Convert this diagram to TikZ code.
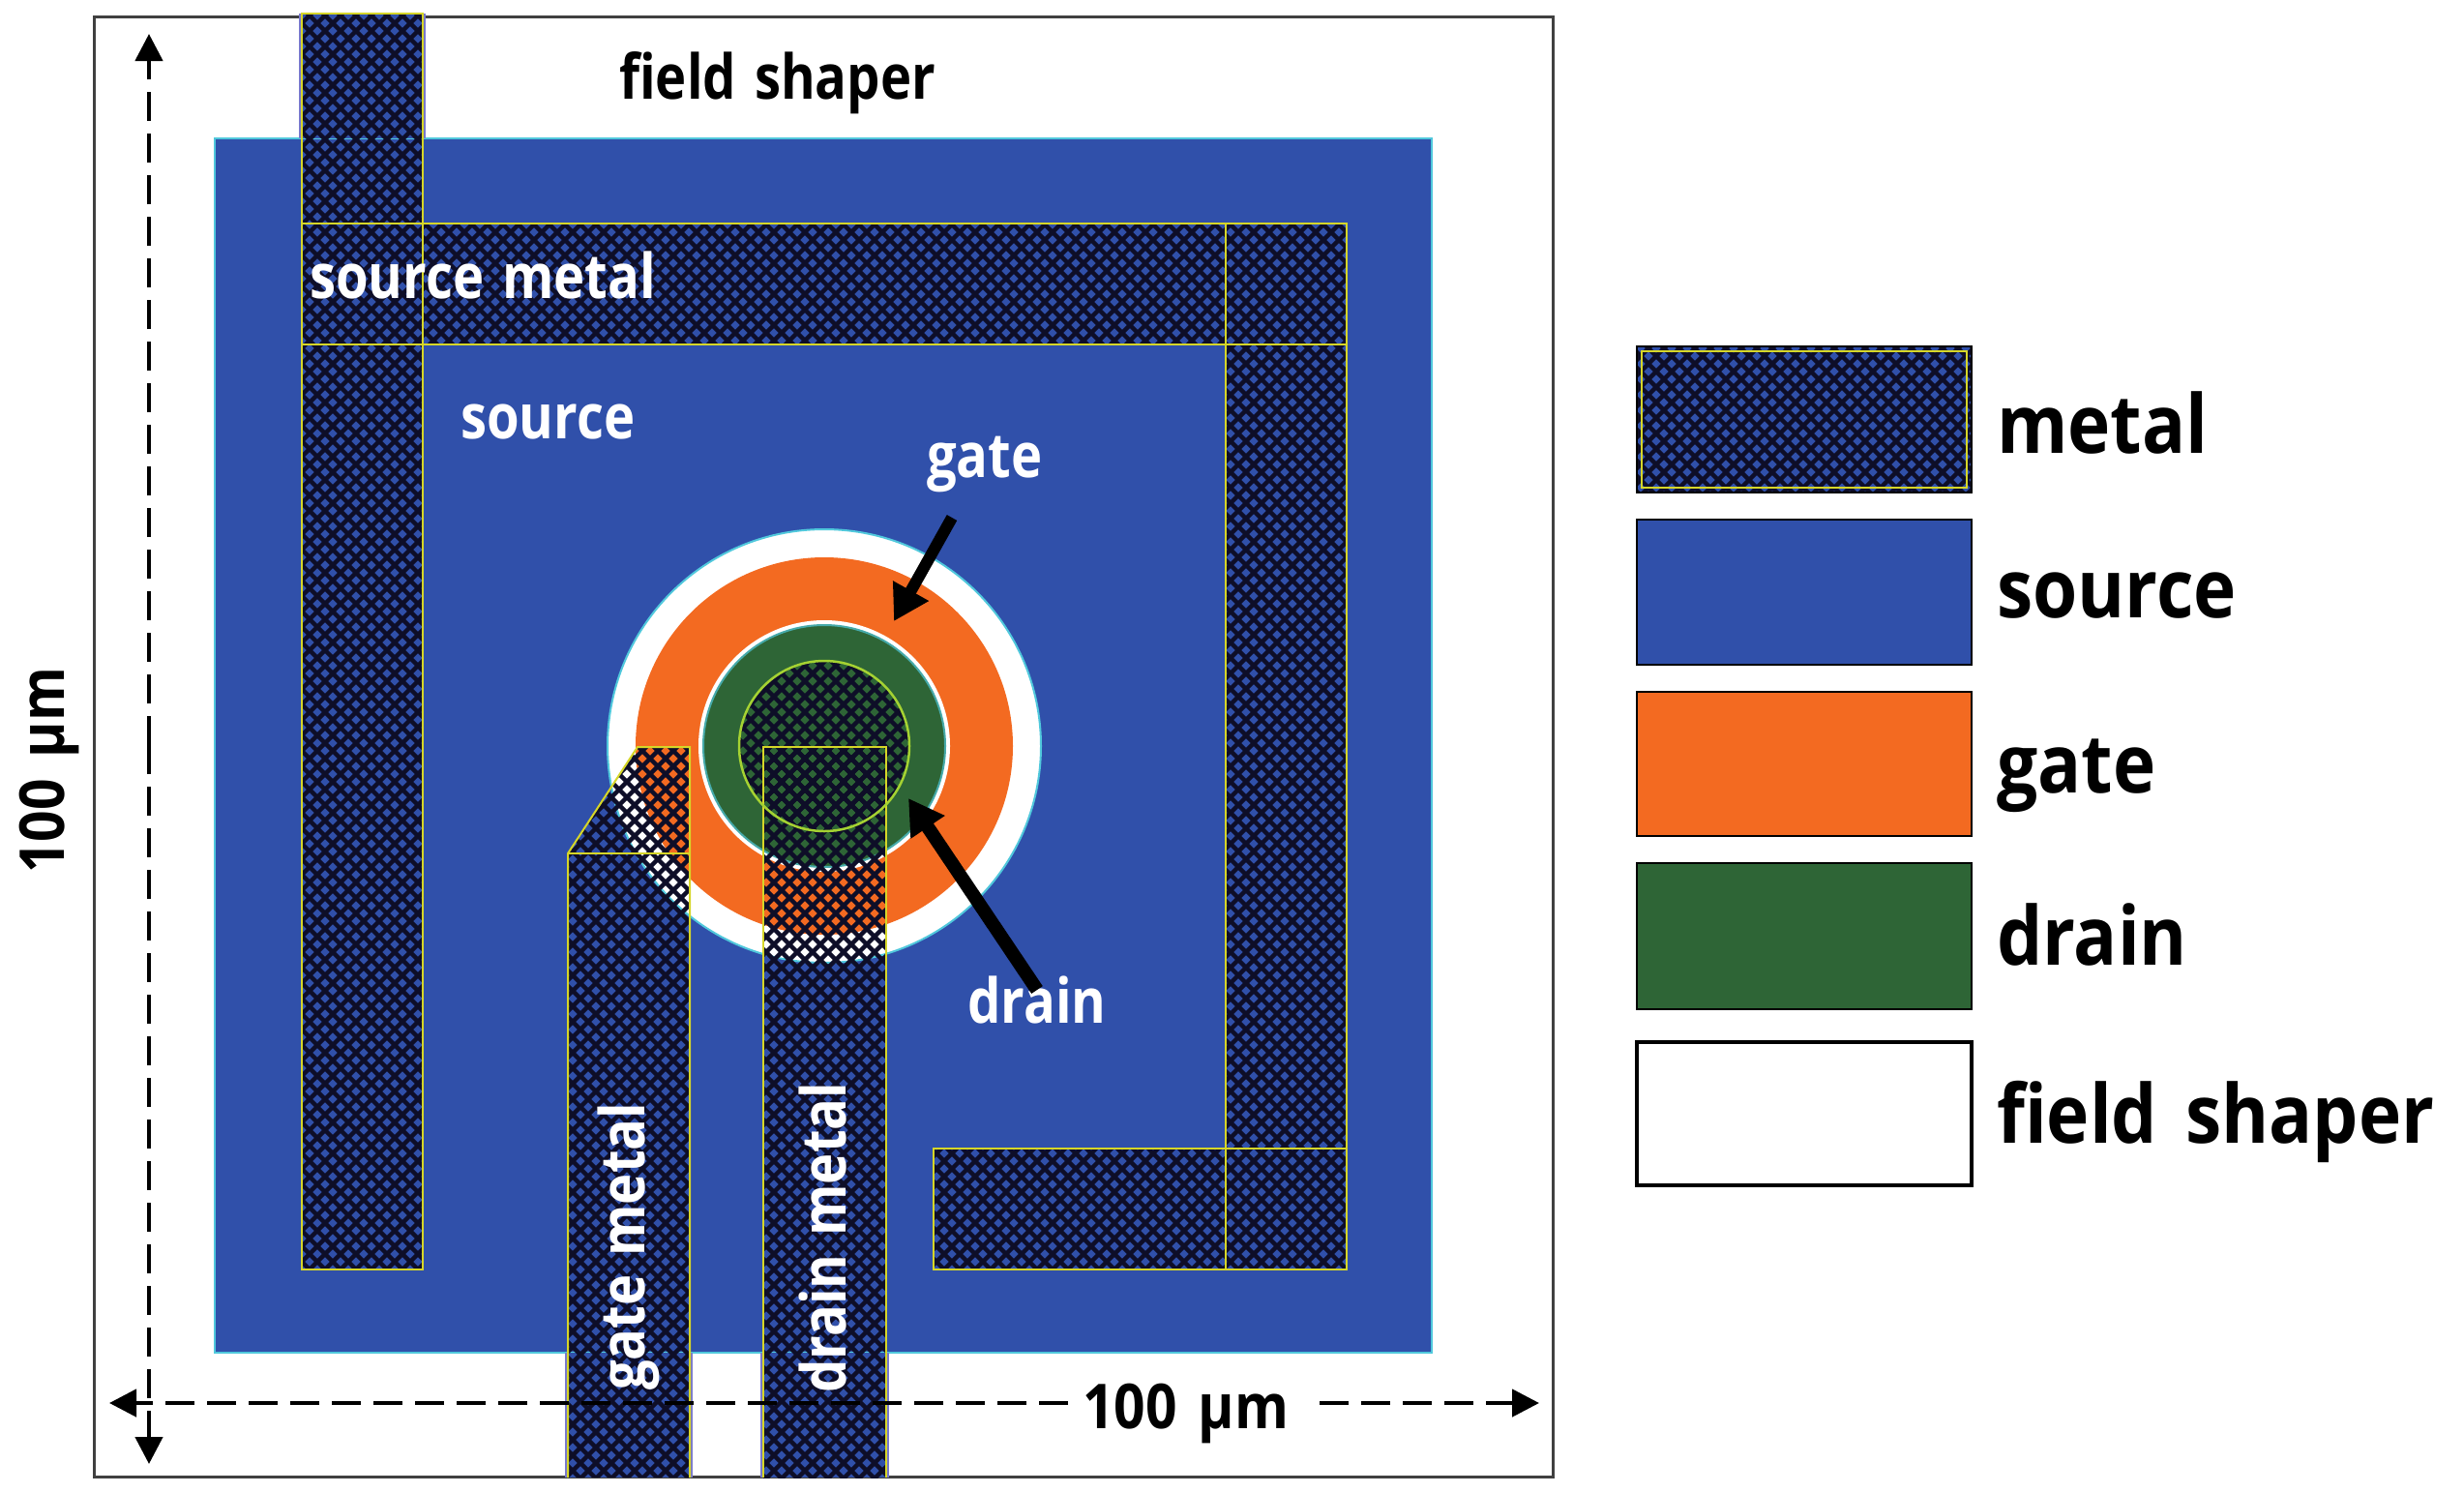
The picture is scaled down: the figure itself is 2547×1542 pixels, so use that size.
\documentclass[tikz,border=0pt]{standalone}
\usepackage{fontspec}
\setmainfont{Open Sans}
\newfontfamily\labelface{Open Sans Bold}[FakeStretch=0.85,WordSpace=1.35]
\newfontfamily\legendface{Open Sans Bold}[FakeStretch=0.89,WordSpace=1.5]
\usetikzlibrary{arrows.meta}
\definecolor{srcblue}{RGB}{48,80,170}
\definecolor{gateor}{RGB}{243,106,33}
\definecolor{drgreen}{RGB}{46,101,54}
\definecolor{edgecy}{RGB}{80,200,220}
\definecolor{metyel}{RGB}{214,214,40}
\definecolor{ringyel}{RGB}{165,210,50}
\definecolor{lilac}{RGB}{120,120,205}
\definecolor{hatchdark}{RGB}{14,14,40}
\tikzset{
  hatchline/.style={hatchdark,line width=4.4pt},
  metaledge/.style={draw=metyel,line width=2pt},
  swatch/.style={draw=black,line width=2.5pt},
  bigtext/.style={inner sep=0pt,anchor=base west,font=\labelface\fontsize{64}{64}\selectfont},
  dimtext/.style={inner sep=0pt,anchor=base west,font=\legendface\fontsize{64}{64}\selectfont},
  legtext/.style={inner sep=0pt,anchor=base west,font=\legendface\fontsize{84}{84}\selectfont},
  dimline/.style={black,line width=4.5pt,dash pattern=on 30pt off 13pt,-{Triangle[length=28pt,width=28pt]}},
  callout/.style={black,-{Triangle[length=36pt,width=40pt]}},
}
\newcommand{\hatchin}[1]{%
  \begin{scope}
    \clip #1;
    \foreach \k in {0,...,260} {\draw[hatchline] (16*\k,0) -- (16*\k-1600,1600);}
    \foreach \k in {-105,...,160} {\draw[hatchline] (16*\k,0) -- (16*\k+1600,1600);}
  \end{scope}}
\begin{document}
\begin{tikzpicture}[x=1pt,y=-1pt]
\useasboundingbox (0,0) rectangle (2547,1542);
\fill[white] (0,0) rectangle (2547,1542);
% frame and source
\draw[black!75,line width=3pt] (97,17) rectangle (1605,1526);
\fill[srcblue,draw=edgecy,line width=2.5pt] (222,143) rectangle (1480,1398);
% concentric device
\fill[white,draw=edgecy,line width=2pt] (852,771) circle (224);
\fill[gateor] (852,771) circle (195);
\fill[white,draw=none] (852,771) circle (130);
\fill[drgreen,draw=edgecy!70!drgreen,line width=2pt] (852,771) circle (125);
% metal strips: fill under hatch where they leave the source
\fill[lilac] (309,14) rectangle (440,143);
\fill[lilac] (584,1398) rectangle (716,1527);
\fill[lilac] (786,1398) rectangle (919,1527);
\fill[srcblue] (312,14) rectangle (437,143);
\fill[srcblue] (587,1398) rectangle (713,1527);
\fill[srcblue] (789,1398) rectangle (916,1527);
% hatch
\hatchin{(312,14) rectangle (437,1312)}
\hatchin{(437,231) rectangle (1392,356)}
\hatchin{(1267,356) rectangle (1392,1312)}
\hatchin{(965,1187) rectangle (1267,1312)}
\hatchin{(587,882) -- (659,772) -- (713,772) -- (713,1527) -- (587,1527) -- cycle}
\hatchin{(789,772) rectangle (916,1527)}
\hatchin{(852,771) circle (88)}
% metal outlines
\draw[metaledge] (312,14) rectangle (437,1312);
\draw[metaledge] (312,231) rectangle (1392,356);
\draw[metaledge] (1267,231) rectangle (1392,1312);
\draw[metaledge] (965,1187) rectangle (1392,1312);
\draw[metaledge] (587,1527) -- (587,882) -- (659,772) -- (713,772) -- (713,1527);
\draw[metaledge] (587,882) -- (713,882);
\draw[metaledge] (789,1527) -- (789,772) -- (916,772) -- (916,1527);
\draw[ringyel,line width=2.5pt] (852,771) circle (88);
% labels on the device
\node[bigtext] (fs) at (640,102) {field shaper};
\node[bigtext,text=white] (sm) at (320,308) {source metal};
\node[bigtext,text=white] (src) at (476,453) {source};
\node[bigtext,text=white] (gatelab) at (958,493) {gate};
\node[bigtext,text=white] (drainlab) at (1000,1057) {drain};
\node[bigtext,text=white,rotate=90] (gm) at (666,1437) {gate metal};
\node[bigtext,text=white,rotate=90] (dm) at (874,1440) {drain metal};
\node[dimtext] (hdim) at (1119,1476) {100 µm};
\node[dimtext,rotate=90] (vdim) at (66,903) {100 µm};
% callouts
\coordinate (gatetail) at (984,535);
\coordinate (gatetip) at (924,642);
\coordinate (draintail) at (1072,1023);
\coordinate (draintip) at (939,825);
\draw[callout,line width=12pt] (gatetail) -- (gatetip);
\draw[callout,line width=14pt] (draintail) -- (draintip);
% dimension arrows
\coordinate (vtop) at (154,35);
\coordinate (vbot) at (154,1513);
\coordinate (vmid) at (154,770);
\coordinate (hleft) at (113,1450);
\coordinate (hgapl) at (1104,1450);
\coordinate (hgapr) at (1364,1450);
\coordinate (hright) at (1591,1450);
\draw[dimline] (vmid) -- (vtop);
\draw[dimline] (vmid) -- (vbot);
\draw[dimline] (hgapl) -- (hleft);
\draw[dimline] (hgapr) -- (hright);
% legend
\fill[srcblue] (1692,358) rectangle (2038,509);
\hatchin{(1692,358) rectangle (2038,509)}
\draw[swatch] (1692,358) rectangle (2038,509);
\draw[metaledge] (1697,363) rectangle (2033,504);
\draw[swatch,fill=srcblue] (1692,537) rectangle (2038,687);
\draw[swatch,fill=gateor] (1692,715) rectangle (2038,864);
\draw[swatch,fill=drgreen] (1692,892) rectangle (2038,1043);
\draw[swatch,fill=white,line width=3.5pt] (1692,1077) rectangle (2038,1225);
\node[legtext] (lm) at (2064,468) {metal};
\node[legtext] (ls) at (2064,638) {source};
\node[legtext] (lg) at (2064,819) {gate};
\node[legtext] (ld) at (2064,997) {drain};
\node[legtext] (lf) at (2064,1181) {field shaper};
\end{tikzpicture}
\end{document}
